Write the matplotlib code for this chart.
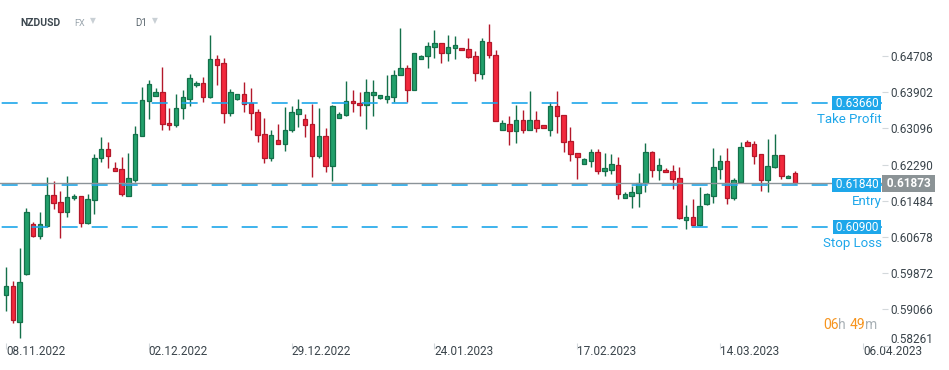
import numpy as np
import matplotlib
matplotlib.use("Agg")
import matplotlib.pyplot as plt
import matplotlib.transforms as mtransforms

plt.rcParams['font.family'] = ['Roboto', 'DejaVu Sans']

# daily NZDUSD candles (open, high, low, close)
opens = [0.5938, 0.5959, 0.5879, 0.5985, 0.6097, 0.6071, 0.6093, 0.6161, 0.6145, 0.6123,
         0.6154, 0.6158, 0.6098, 0.6149, 0.6243, 0.6264, 0.6221, 0.6219, 0.6160, 0.6195,
         0.6293, 0.6370, 0.6382, 0.6391, 0.6321, 0.6316, 0.6354, 0.6376, 0.6405, 0.6411,
         0.6380, 0.6463, 0.6455, 0.6343, 0.6374, 0.6386, 0.6365, 0.6345, 0.6296, 0.6243,
         0.6283, 0.6274, 0.6306, 0.6341, 0.6330, 0.6319, 0.6247, 0.6292, 0.6225, 0.6332,
         0.6339, 0.6371, 0.6366, 0.6361, 0.6383, 0.6378, 0.6376, 0.6379, 0.6428, 0.6443,
         0.6394, 0.6465, 0.6470, 0.6490, 0.6499, 0.6477, 0.6488, 0.6488, 0.6486, 0.6470,
         0.6430, 0.6501, 0.6472, 0.6307, 0.6319, 0.6303, 0.6328, 0.6307, 0.6328, 0.6316,
         0.6307, 0.6359, 0.6339, 0.6281, 0.6254, 0.6231, 0.6238, 0.6256, 0.6215, 0.6218,
         0.6227, 0.6155, 0.6158, 0.6166, 0.6187, 0.6256, 0.6218, 0.6218, 0.6215, 0.6198,
         0.6106, 0.6112, 0.6095, 0.6141, 0.6160, 0.6220, 0.6238, 0.6155, 0.6191, 0.6279,
         0.6274, 0.6252, 0.6194, 0.6223, 0.6250, 0.6198, 0.6210]
highs = [0.6002, 0.5970, 0.6043, 0.6132, 0.6102, 0.6123, 0.6201, 0.6192, 0.6170, 0.6203,
         0.6163, 0.6160, 0.6164, 0.6253, 0.6290, 0.6279, 0.6234, 0.6246, 0.6255, 0.6315,
         0.6402, 0.6417, 0.6399, 0.6446, 0.6356, 0.6386, 0.6394, 0.6431, 0.6414, 0.6424,
         0.6517, 0.6474, 0.6466, 0.6397, 0.6387, 0.6413, 0.6399, 0.6352, 0.6333, 0.6306,
         0.6319, 0.6357, 0.6359, 0.6375, 0.6342, 0.6364, 0.6355, 0.6310, 0.6362, 0.6345,
         0.6415, 0.6394, 0.6391, 0.6420, 0.6417, 0.6384, 0.6428, 0.6440, 0.6532, 0.6450,
         0.6477, 0.6472, 0.6501, 0.6528, 0.6499, 0.6517, 0.6515, 0.6488, 0.6510, 0.6481,
         0.6510, 0.6542, 0.6483, 0.6328, 0.6336, 0.6361, 0.6351, 0.6393, 0.6348, 0.6316,
         0.6369, 0.6393, 0.6339, 0.6313, 0.6254, 0.6243, 0.6264, 0.6264, 0.6255, 0.6252,
         0.6246, 0.6169, 0.6182, 0.6210, 0.6276, 0.6259, 0.6243, 0.6221, 0.6227, 0.6224,
         0.6139, 0.6152, 0.6178, 0.6165, 0.6266, 0.6250, 0.6266, 0.6198, 0.6280, 0.6283,
         0.6281, 0.6252, 0.6285, 0.6297, 0.6250, 0.6206, 0.6215]
lows = [0.5902, 0.5876, 0.5842, 0.5983, 0.6067, 0.6064, 0.6089, 0.6131, 0.6066, 0.6113,
        0.6149, 0.6091, 0.6097, 0.6119, 0.6234, 0.6222, 0.6215, 0.6158, 0.6160, 0.6191,
        0.6293, 0.6330, 0.6382, 0.6305, 0.6306, 0.6313, 0.6330, 0.6360, 0.6401, 0.6369,
        0.6378, 0.6406, 0.6322, 0.6338, 0.6372, 0.6347, 0.6305, 0.6280, 0.6233, 0.6236,
        0.6274, 0.6260, 0.6302, 0.6313, 0.6291, 0.6202, 0.6243, 0.6213, 0.6193, 0.6332,
        0.6338, 0.6347, 0.6338, 0.6309, 0.6338, 0.6376, 0.6365, 0.6369, 0.6428, 0.6369,
        0.6394, 0.6463, 0.6443, 0.6467, 0.6454, 0.6460, 0.6465, 0.6483, 0.6466, 0.6416,
        0.6420, 0.6467, 0.6325, 0.6307, 0.6273, 0.6276, 0.6300, 0.6307, 0.6302, 0.6310,
        0.6293, 0.6300, 0.6256, 0.6236, 0.6197, 0.6231, 0.6224, 0.6207, 0.6204, 0.6207,
        0.6153, 0.6155, 0.6133, 0.6135, 0.6169, 0.6202, 0.6195, 0.6213, 0.6175, 0.6107,
        0.6086, 0.6095, 0.6093, 0.6140, 0.6144, 0.6197, 0.6142, 0.6149, 0.6191, 0.6271,
        0.6231, 0.6171, 0.6169, 0.6222, 0.6196, 0.6198, 0.6186]
closes = [0.5959, 0.5882, 0.5967, 0.6123, 0.6071, 0.6097, 0.6161, 0.6143, 0.6123, 0.6156,
          0.6159, 0.6098, 0.6152, 0.6244, 0.6264, 0.6249, 0.6215, 0.6163, 0.6198, 0.6296,
          0.6372, 0.6408, 0.6391, 0.6319, 0.6316, 0.6356, 0.6379, 0.6421, 0.6411, 0.6380,
          0.6463, 0.6451, 0.6343, 0.6391, 0.6385, 0.6363, 0.6343, 0.6294, 0.6243, 0.6294,
          0.6274, 0.6307, 0.6345, 0.6352, 0.6316, 0.6247, 0.6292, 0.6225, 0.6359, 0.6341,
          0.6370, 0.6365, 0.6361, 0.6391, 0.6391, 0.6383, 0.6381, 0.6428, 0.6443, 0.6394,
          0.6477, 0.6470, 0.6492, 0.6499, 0.6477, 0.6490, 0.6495, 0.6483, 0.6468, 0.6432,
          0.6503, 0.6472, 0.6325, 0.6321, 0.6303, 0.6328, 0.6307, 0.6328, 0.6310, 0.6310,
          0.6359, 0.6336, 0.6279, 0.6252, 0.6245, 0.6241, 0.6256, 0.6215, 0.6221, 0.6230,
          0.6164, 0.6163, 0.6169, 0.6187, 0.6256, 0.6218, 0.6227, 0.6213, 0.6196, 0.6109,
          0.6112, 0.6095, 0.6136, 0.6163, 0.6223, 0.6238, 0.6155, 0.6194, 0.6267, 0.6271,
          0.6249, 0.6194, 0.6225, 0.6250, 0.6203, 0.6203, 0.61873]

date_pos = [0, 21, 42, 63, 84, 105, 126]
date_labels = ['08.11.2022', '02.12.2022', '29.12.2022', '24.01.2023',
               '17.02.2023', '14.03.2023', '06.04.2023']
price_ticks = [0.58261, 0.59066, 0.59872, 0.60678, 0.61484, 0.62290, 0.63096, 0.63902, 0.64708]

take_profit = 0.63660
entry = 0.61840
stop_loss = 0.60900
last_price = 0.61873

blue = '#1ea7ea'
g_face, g_edge = '#22a06b', '#14704a'
r_face, r_edge = '#f2283c', '#b3182a'

o = np.array(opens)
h = np.array(highs)
l = np.array(lows)
c = np.array(closes)
x = np.arange(len(o))
up = c >= o

fig = plt.figure(figsize=(9.49, 3.70), dpi=100)
ax = fig.add_axes([0, 24 / 370, 882 / 949, 326 / 370])
ax.set_xlim(-0.88, 128.8)
ax.set_ylim(0.58251, 0.65508)
for s in ax.spines.values():
    s.set_visible(False)

# candles
ax.vlines(x, l, h, colors=np.where(up, g_edge, r_edge), lw=1.0, zorder=2)
body_bottom = np.minimum(o, c)
body_h = np.maximum(np.abs(c - o), 0.00007)
ax.bar(x, body_h, bottom=body_bottom, width=0.66,
       color=np.where(up, g_face, r_face), edgecolor=np.where(up, g_edge, r_edge),
       linewidth=0.9, zorder=2.5)

# levels
dash = (17.0, (9.6, 8.4))
for lvl in [take_profit, entry, stop_loss]:
    ax.axhline(lvl, color=blue, lw=1.2, ls=dash, zorder=3)
ax.axhline(last_price, color='#8b9398', lw=1.0, zorder=3.2)

trans = mtransforms.blended_transform_factory(ax.transAxes, ax.transData)
for lvl, name in [(take_profit, 'Take Profit'), (entry, 'Entry'), (stop_loss, 'Stop Loss')]:
    ax.text(0.999, lvl, ' %.5f ' % lvl, transform=trans, ha='right', va='center',
            fontsize=8.5, color='white', zorder=5,
            bbox=dict(boxstyle='square,pad=0.02', fc=blue, ec='none'))
    ax.annotate(name, xy=(1.0, lvl), xycoords=trans, xytext=(0, -12),
                textcoords='offset points', ha='right', va='center',
                fontsize=9.5, color=blue)

ax.annotate(' %.5f ' % last_price, xy=(1.0, last_price), xycoords=trans,
            xytext=(1.2, 0), textcoords='offset points', ha='left', va='center',
            fontsize=8.5, fontweight='bold', color='white', annotation_clip=False,
            bbox=dict(boxstyle='square,pad=0.15', fc='#8b9396', ec='none'), zorder=6)

# axes ticks
ax.yaxis.tick_right()
ax.set_yticks(price_ticks)
ax.set_yticklabels(['%.5f' % v for v in price_ticks])
ax.tick_params(axis='y', length=4.3, width=0.8, color='#d3d8db', pad=2,
               labelsize=8.5, labelcolor='#3a444b')
ax.get_yticklabels()[0].set_va('bottom')

ax.set_xticks(date_pos)
ax.set_xticklabels(date_labels)
ax.tick_params(axis='x', direction='inout', length=5, width=0.8, color='#d3d8db',
               pad=-3.3, labelsize=8.5, labelcolor='#3a444b')
for t in ax.get_xticklabels():
    t.set_ha('left')

# header
fig.text(20 / 949, 1 - 23 / 370, 'NZDUSD', fontsize=7.5, fontweight='bold',
         color='#3d4850', va='center')
fig.text(74 / 949, 1 - 23.5 / 370, 'FX', fontsize=6.5, color='#9aa5ad', va='center')
fig.text(90 / 949, 1 - 21 / 370, '▼', fontsize=5.5, color='#c9d0d5', va='center')
fig.text(135 / 949, 1 - 23.5 / 370, 'D1', fontsize=7, color='#5b676f', va='center')
fig.text(152 / 949, 1 - 21 / 370, '▼', fontsize=5.5, color='#c9d0d5', va='center')

# countdown
orange, grey = '#f7941d', '#a9b1b6'
cur = fig.text(823 / 949, 1 - 325 / 370, '06', fontsize=10, color=orange, va='center')
for txt, col in [('h ', grey), ('49', orange), ('m', grey)]:
    cur = ax.annotate(txt, xy=(1, 0), xycoords=cur, xytext=(0, 0),
                      textcoords='offset points', ha='left', va='bottom',
                      fontsize=10, color=col, annotation_clip=False)

fig.savefig('out.png', dpi=100)
